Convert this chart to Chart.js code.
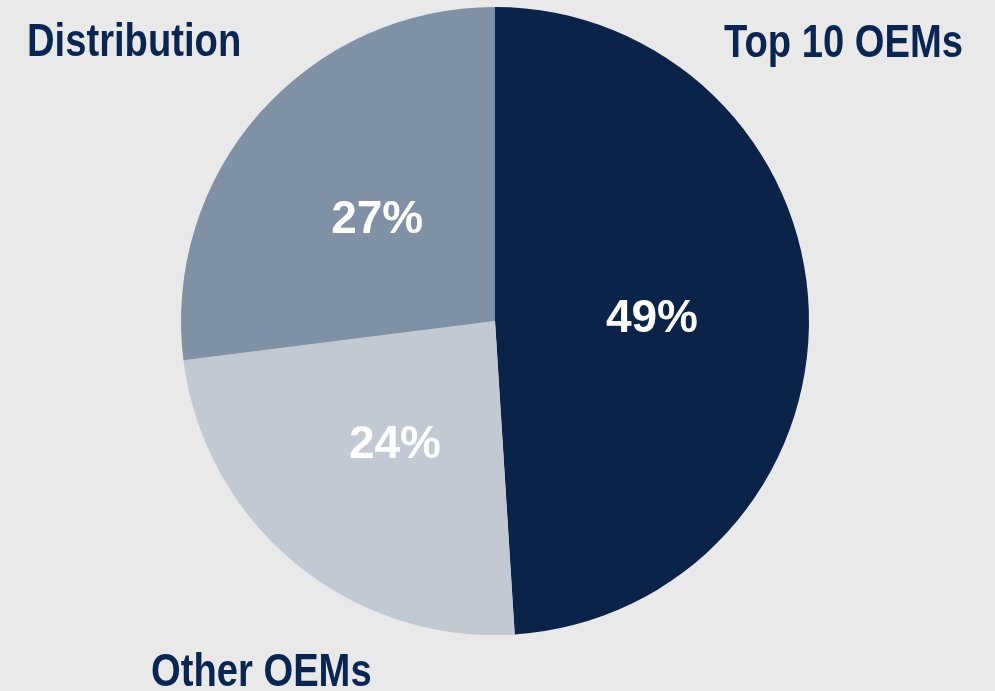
<!DOCTYPE html>
<html>
<head>
<meta charset="utf-8">
<script src="https://cdn.jsdelivr.net/npm/chart.js@4.4.1/dist/chart.umd.min.js"></script>
<style>
    html, body { margin: 0; padding: 0; background: #e9e9e9; }
    #wrap { width: 995px; height: 691px; position: relative; }
</style>
</head>
<body>
<div id="wrap"><canvas id="share-chart"></canvas></div>
<script>
const categories = ['Top 10 OEMs', 'Other OEMs', 'Distribution'];
const shares = [49, 24, 27];
const sliceColors = ['#0b2349', '#c1c9d3', '#8090a5'];

// outer category names, drawn narrow like the original
const outerLabelPos = [
    { x: 963, y: 57, align: 'right' },
    { x: 151, y: 686, align: 'left' },
    { x: 27, y: 56, align: 'left' }
];

const sliceLabels = {
    id: 'sliceLabels',
    afterDatasetsDraw(chart) {
        const ctx = chart.ctx;
        const meta = chart.getDatasetMeta(0);
        ctx.save();
        ctx.fillStyle = '#ffffff';
        ctx.font = 'bold 46px "Liberation Sans", Arial, sans-serif';
        ctx.textAlign = 'center';
        ctx.textBaseline = 'middle';
        meta.data.forEach((arc, i) => {
            const p = arc.tooltipPosition();
            ctx.fillText(shares[i] + '%', p.x, p.y + 3);
        });

        ctx.fillStyle = '#0a2550';
        ctx.textBaseline = 'alphabetic';
        const sx = 0.83;
        categories.forEach((name, i) => {
            const pos = outerLabelPos[i];
            ctx.save();
            ctx.translate(pos.x, pos.y);
            ctx.scale(sx, 1);
            ctx.textAlign = pos.align;
            ctx.fillText(name, 0, 0);
            ctx.restore();
        });
        ctx.restore();
    }
};

const ctx = document.getElementById('share-chart').getContext('2d');
new Chart(ctx, {
    type: 'pie',
    data: {
        labels: categories,
        datasets: [{
            data: shares,
            backgroundColor: sliceColors,
            borderWidth: 0
        }]
    },
    options: {
        responsive: true,
        maintainAspectRatio: false,
        animation: false,
        layout: { padding: { top: 7, bottom: 56, left: 0, right: 5 } },
        plugins: {
            legend: { display: false },
            tooltip: { enabled: false }
        }
    },
    plugins: [sliceLabels]
});
</script>
</body>
</html>
